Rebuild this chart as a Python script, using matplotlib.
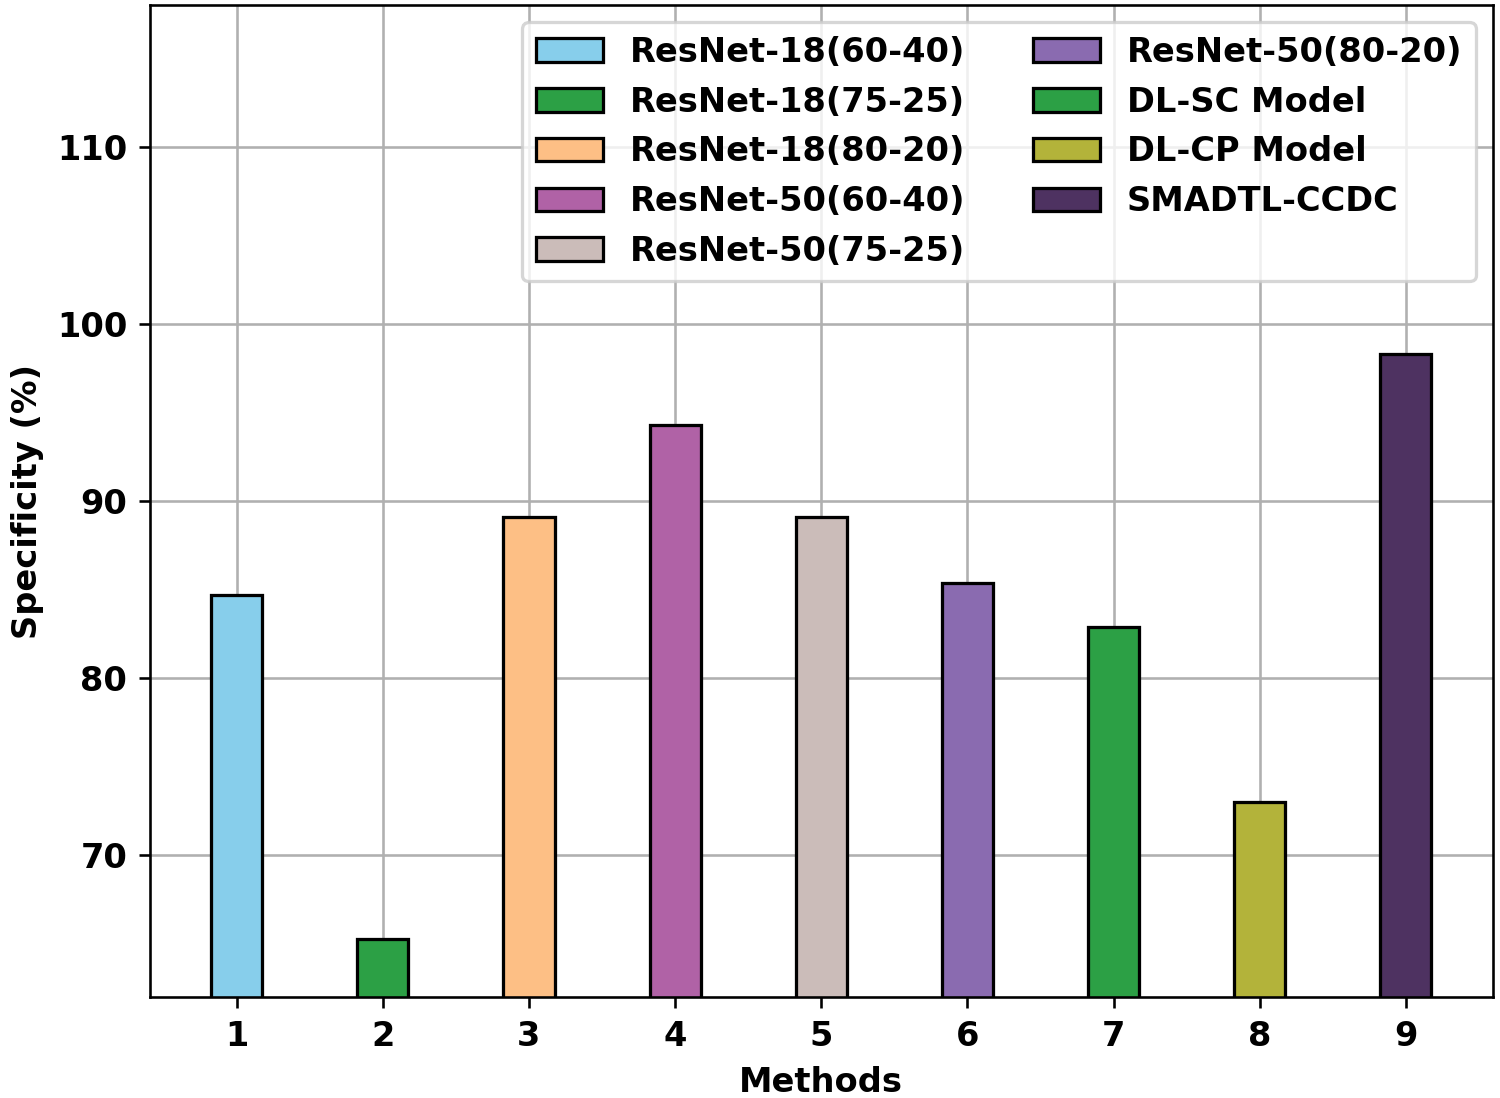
import matplotlib
matplotlib.use("Agg")
import matplotlib.pyplot as plt

methods = [1, 2, 3, 4, 5, 6, 7, 8, 9]
labels = [
    "ResNet-18(60-40)", "ResNet-18(75-25)", "ResNet-18(80-20)",
    "ResNet-50(60-40)", "ResNet-50(75-25)", "ResNet-50(80-20)",
    "DL-SC Model", "DL-CP Model", "SMADTL-CCDC",
]
specificity = [84.7, 65.3, 89.1, 94.3, 89.1, 85.4, 82.9, 73.0, 98.3]
colors = [
    "#87ceeb", "#2ca045", "#fdbf85", "#b062a6", "#cbbcb9",
    "#8a6bb0", "#2ca045", "#b3b33a", "#4e3261",
]

plt.rcParams["font.size"] = 10.35
plt.rcParams["font.weight"] = "bold"
plt.rcParams["axes.labelweight"] = "bold"

fig, ax = plt.subplots(figsize=(1500 / 234, 1098 / 234), dpi=234)
fig.subplots_adjust(left=0.1, right=0.995, top=0.995, bottom=0.092)

ax.set_axisbelow(True)
ax.grid(True)
for m, v, c, lab in zip(methods, specificity, colors, labels):
    ax.bar(m, v, width=0.35, color=c, edgecolor="black", linewidth=1, label=lab)

ax.set_ylim(62, 118)
ax.set_xticks(methods)
ax.set_xlabel("Methods")
ax.set_ylabel("Specificity (%)")
ax.legend(ncol=2, loc="upper right")

fig.savefig("out.png")
